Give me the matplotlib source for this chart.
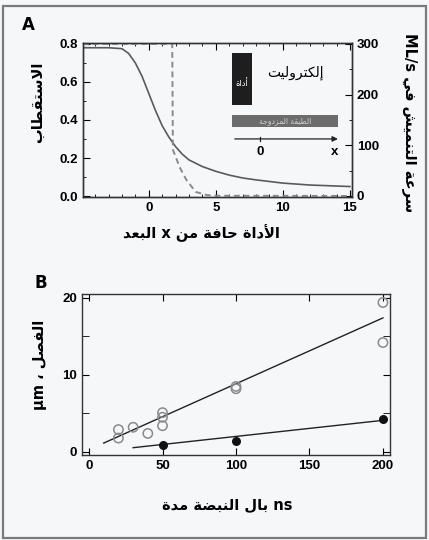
import matplotlib
matplotlib.use("Agg")
import matplotlib.pyplot as plt
from matplotlib.patches import Rectangle
from matplotlib.ticker import MultipleLocator

# ---- data ----
dist_x = [-4.9, -3, -2, -1.5, -1, -0.5, 0, 0.5, 1, 1.5, 2, 2.5, 3, 4, 5, 6, 7, 8, 10, 12, 15]
polarization = [0.78, 0.78, 0.775, 0.75, 0.70, 0.63, 0.54, 0.45, 0.37, 0.31, 0.26, 0.22,
                0.19, 0.155, 0.13, 0.11, 0.095, 0.085, 0.068, 0.058, 0.05]
rate_x = [-4.9, 1.75, 1.8, 2.0, 2.3, 2.8, 3.5, 4.3, 5, 15]
rate = [300, 300, 91, 78, 57, 32, 8, 2, 0.5, 0]

open_t = [20, 20, 30, 40, 50, 50, 50, 100, 100, 200, 200]
open_d = [2.9, 1.8, 3.2, 2.4, 5.1, 4.5, 3.4, 8.5, 8.2, 19.4, 14.2]
fill_t = [50, 100, 200]
fill_d = [0.9, 1.4, 4.3]
fit_open_t = [10, 200]
fit_open_d = [1.15, 17.4]
fit_fill_t = [30, 200]
fit_fill_d = [0.55, 4.1]

# ---- minimal Arabic shaping (matplotlib has no complex text layout) ----
FORMS = {
    'ا': (0xFE8D, 0xFE8E), 'أ': (0xFE83, 0xFE84), 'إ': (0xFE87, 0xFE88), 'آ': (0xFE81, 0xFE82),
    'ب': (0xFE8F, 0xFE90, 0xFE91, 0xFE92), 'ة': (0xFE93, 0xFE94),
    'ت': (0xFE95, 0xFE96, 0xFE97, 0xFE98), 'ث': (0xFE99, 0xFE9A, 0xFE9B, 0xFE9C),
    'ج': (0xFE9D, 0xFE9E, 0xFE9F, 0xFEA0), 'ح': (0xFEA1, 0xFEA2, 0xFEA3, 0xFEA4),
    'خ': (0xFEA5, 0xFEA6, 0xFEA7, 0xFEA8), 'د': (0xFEA9, 0xFEAA), 'ذ': (0xFEAB, 0xFEAC),
    'ر': (0xFEAD, 0xFEAE), 'ز': (0xFEAF, 0xFEB0),
    'س': (0xFEB1, 0xFEB2, 0xFEB3, 0xFEB4), 'ش': (0xFEB5, 0xFEB6, 0xFEB7, 0xFEB8),
    'ص': (0xFEB9, 0xFEBA, 0xFEBB, 0xFEBC), 'ض': (0xFEBD, 0xFEBE, 0xFEBF, 0xFEC0),
    'ط': (0xFEC1, 0xFEC2, 0xFEC3, 0xFEC4), 'ظ': (0xFEC5, 0xFEC6, 0xFEC7, 0xFEC8),
    'ع': (0xFEC9, 0xFECA, 0xFECB, 0xFECC), 'غ': (0xFECD, 0xFECE, 0xFECF, 0xFED0),
    'ف': (0xFED1, 0xFED2, 0xFED3, 0xFED4), 'ق': (0xFED5, 0xFED6, 0xFED7, 0xFED8),
    'ك': (0xFED9, 0xFEDA, 0xFEDB, 0xFEDC), 'ل': (0xFEDD, 0xFEDE, 0xFEDF, 0xFEE0),
    'م': (0xFEE1, 0xFEE2, 0xFEE3, 0xFEE4), 'ن': (0xFEE5, 0xFEE6, 0xFEE7, 0xFEE8),
    'ه': (0xFEE9, 0xFEEA, 0xFEEB, 0xFEEC), 'و': (0xFEED, 0xFEEE), 'ى': (0xFEEF, 0xFEF0),
    'ي': (0xFEF1, 0xFEF2, 0xFEF3, 0xFEF4),
}
LAM_ALEF = {'ا': (0xFEFB, 0xFEFC), 'أ': (0xFEF7, 0xFEF8), 'إ': (0xFEF9, 0xFEFA), 'آ': (0xFEF5, 0xFEF6)}


def shape_word(w):
    out = []
    i = 0
    prev_joins = False
    while i < len(w):
        c = w[i]
        if c not in FORMS:
            out.append(c)
            prev_joins = False
            i += 1
            continue
        if c == 'ل' and i + 1 < len(w) and w[i + 1] in LAM_ALEF:
            iso, fin = LAM_ALEF[w[i + 1]]
            out.append(chr(fin if prev_joins else iso))
            prev_joins = False
            i += 2
            continue
        f = FORMS[c]
        dual = len(f) == 4
        nxt = i + 1 < len(w) and w[i + 1] in FORMS
        if prev_joins and dual and nxt:
            g = f[3]
        elif prev_joins:
            g = f[1]
        elif dual and nxt:
            g = f[2]
        else:
            g = f[0]
        out.append(chr(g))
        prev_joins = dual
        i += 1
    return ''.join(reversed(out))


def ar(text, rtl=True):
    words = [shape_word(w) if any(ch in FORMS for ch in w) else w for w in text.split(' ')]
    if rtl:
        words = words[::-1]
    return ' '.join(words)


AR = ['DejaVu Sans']
NUM = ['Liberation Sans', 'DejaVu Sans']
bg = '#f5f7f9'

plt.rcParams['font.family'] = NUM
plt.rcParams['font.weight'] = 'bold'

fig = plt.figure(figsize=(4.29, 5.40), dpi=100, facecolor=bg)
fig.patches.append(Rectangle((0.008, 0.004), 0.985, 0.985, transform=fig.transFigure,
                             fill=False, edgecolor='#7a7a7a', lw=1.6))

# ---------------- panel A ----------------
ax = fig.add_axes([0.1935, 0.6352, 0.627, 0.2852], facecolor=bg)
ax.plot(dist_x, polarization, color='#5a5a5a', lw=1.2)
ax.set_xlim(-4.9, 15.15)
ax.set_ylim(-0.005, 0.805)
ax.set_xticks([0, 5, 10, 15])
ax.set_yticks([0.0, 0.2, 0.4, 0.6, 0.8])
ax.xaxis.set_minor_locator(MultipleLocator(1))
ax.yaxis.set_minor_locator(MultipleLocator(0.1))
ax.tick_params(which='both', direction='in', top=True, right=False, labelsize=9.5)
ax.tick_params(which='major', length=5)
ax.tick_params(which='minor', length=2.5)

ax2 = ax.twinx()
ax2.plot(rate_x, rate, color='#8a8a8a', lw=1.4, ls=(0, (3, 2)))
ax2.set_ylim(-2, 302)
ax2.set_yticks([0, 100, 200, 300])
ax2.yaxis.set_minor_locator(MultipleLocator(50))
ax2.tick_params(which='both', direction='in', labelsize=9.5)
ax2.tick_params(which='major', length=5)
ax2.tick_params(which='minor', length=2.5)
for a in (ax, ax2):
    for s in a.spines.values():
        s.set_color('#333333')
        s.set_linewidth(1.0)

# inset sketch
ax.add_patch(Rectangle((0.554, 0.597), 0.074, 0.338, transform=ax.transAxes,
                       facecolor='#1e1e1e', edgecolor='none'))
ax.text(0.591, 0.74, ar('أداة'), transform=ax.transAxes, color='white', fontsize=6,
        ha='center', va='center', family=AR, fontweight='normal')
ax.text(0.79, 0.805, ar('إلكتروليت'), transform=ax.transAxes, fontsize=10,
        ha='center', va='center', family=AR, fontweight='normal')
ax.add_patch(Rectangle((0.554, 0.455), 0.394, 0.077, transform=ax.transAxes,
                       facecolor='#6c6c6c', edgecolor='none'))
ax.text(0.751, 0.493, ar('الطبقة المزدوجة'), transform=ax.transAxes, color='#d0d0d0',
        fontsize=5.5, ha='center', va='center', family=AR, fontweight='normal')
ax.annotate('', xy=(0.958, 0.377), xytext=(0.554, 0.377), xycoords='axes fraction',
            arrowprops=dict(arrowstyle='-|>', color='#222222', lw=0.9, mutation_scale=8))
ax.plot([0.658, 0.658], [0.362, 0.392], transform=ax.transAxes, color='#222222', lw=0.9)
ax.text(0.658, 0.29, '0', transform=ax.transAxes, fontsize=9.5, ha='center', va='center')
ax.text(0.935, 0.29, 'x', transform=ax.transAxes, fontsize=9.5, ha='center', va='center')

fig.text(0.05, 0.954, 'A', fontsize=12, fontweight='bold', family=['DejaVu Sans'],
         ha='left', va='center')
fig.text(0.47, 0.569, ar('البعد x من حافة الأداة', rtl=False), fontsize=10.5,
         ha='center', va='center', family=AR, fontweight='bold')
fig.text(0.088, 0.811, ar('الاستقطاب'), fontsize=10.5, rotation=90,
         ha='center', va='center', family=AR, fontweight='bold')
fig.text(0.956, 0.772, ar('سرعة التنميش في ML/s'), fontsize=10.5, rotation=-90,
         ha='center', va='center', family=AR, fontweight='bold')

# ---------------- panel B ----------------
bx = fig.add_axes([0.1911, 0.1574, 0.718, 0.2981], facecolor=bg)
bx.plot(fit_open_t, fit_open_d, color='#222222', lw=1.0)
bx.plot(fit_fill_t, fit_fill_d, color='#222222', lw=1.0)
bx.scatter(open_t, open_d, s=45, facecolors='none', edgecolors='#8a8a8a', linewidths=1.1,
           zorder=3)
bx.scatter(fill_t, fill_d, s=30, color='#111111', zorder=3)
bx.set_xlim(-4.8, 204.8)
bx.set_ylim(-0.4, 20.5)
bx.set_xticks([0, 50, 100, 150, 200])
bx.set_yticks([0, 10, 20])
bx.yaxis.set_minor_locator(MultipleLocator(5))
bx.tick_params(which='both', direction='in', top=True, right=True, labelsize=9.5)
bx.tick_params(which='major', length=5)
bx.tick_params(which='minor', length=5)
for s in bx.spines.values():
    s.set_color('#333333')
    s.set_linewidth(1.0)

fig.text(0.08, 0.476, 'B', fontsize=12, fontweight='bold', family=['DejaVu Sans'],
         ha='left', va='center')
fig.text(0.529, 0.065, ar('مدة النبضة بال ns', rtl=False), fontsize=10.5,
         ha='center', va='center', family=AR, fontweight='bold')
fig.text(0.093, 0.324, ar('الفصل ، µm'), fontsize=10.5, rotation=90,
         ha='center', va='center', family=AR, fontweight='bold')

fig.savefig('out.png', dpi=100, facecolor=bg)
